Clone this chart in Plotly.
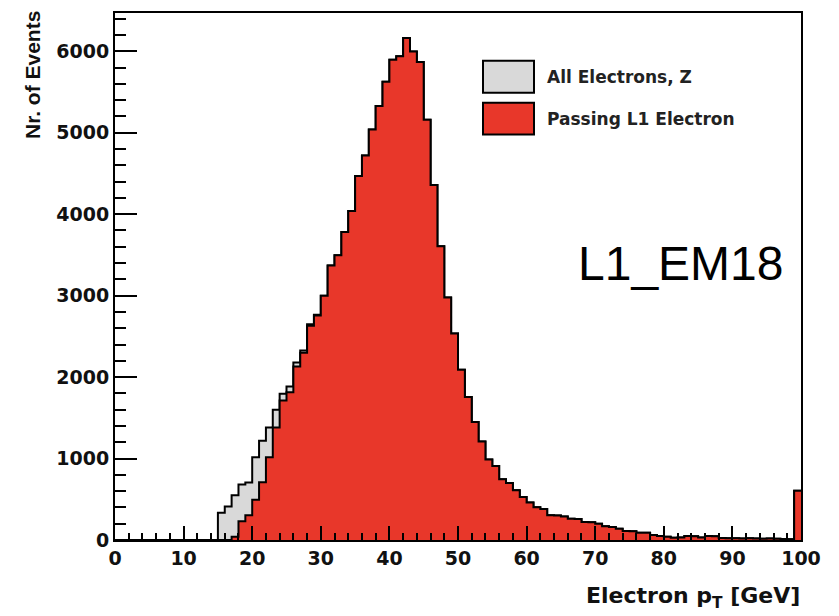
import plotly.graph_objects as go

# Bin edges: 100 bins of 1 GeV from 0 to 100
bin_edges = list(range(0, 101))

# Passing L1 Electron (red) counts per bin 0..99
passing_l1 = [
    0, 0, 0, 0, 0, 0, 0, 0, 0, 0,
    0, 0, 0, 0, 0, 0, 0, 40, 230, 305,
    495, 710, 1015, 1380, 1713, 1815, 2130, 2300, 2630, 2755,
    3000, 3370, 3495, 3780, 4040, 4470, 4720, 5040, 5327, 5625,
    5897, 5940, 6162, 5997, 5868, 5158, 4358, 3607, 2976, 2535,
    2090, 1757, 1450, 1208, 988, 910, 745, 699, 610, 527,
    460, 402, 380, 305, 300, 290, 262, 258, 222, 218,
    199, 170, 160, 138, 112, 108, 90, 88, 62, 50,
    41, 28, 30, 48, 46, 30, 48, 45, 25, 22,
    20, 18, 20, 17, 15, 18, 14, 12, 10, 605,
]

# All Electrons, Z (grey) counts per bin 0..99
all_electrons = [
    0, 0, 0, 0, 0, 0, 0, 0, 0, 0,
    0, 0, 0, 0, 0, 335, 410, 550, 680, 705,
    1015, 1220, 1380, 1600, 1795, 1885, 2180, 2325, 2650, 2765,
    3000, 3370, 3495, 3780, 4040, 4470, 4720, 5040, 5327, 5625,
    5897, 5940, 6162, 5997, 5868, 5158, 4358, 3607, 2976, 2535,
    2090, 1757, 1450, 1208, 988, 910, 745, 699, 610, 527,
    460, 402, 380, 305, 300, 290, 262, 258, 222, 218,
    199, 170, 160, 138, 112, 108, 90, 88, 62, 50,
    41, 28, 30, 48, 46, 30, 48, 45, 25, 22,
    20, 18, 20, 17, 15, 18, 14, 12, 10, 605,
]

series_names = ["All Electrons, Z", "Passing L1 Electron"]
x_ticks = [0, 10, 20, 30, 40, 50, 60, 70, 80, 90, 100]
y_ticks = [0, 1000, 2000, 3000, 4000, 5000, 6000]

GREY = "#d9d9d9"
RED = "#e8372a"
BOLD = "DejaVu Sans"

fig = go.Figure()

def step_trace(values, color, name):
    xs = bin_edges
    ys = values + [values[-1]]
    return go.Scatter(
        x=xs, y=ys, mode="lines", line_shape="hv",
        line=dict(color="black", width=2),
        fill="tozeroy", fillcolor=color, name=name, showlegend=False,
        hoverinfo="skip",
    )

fig.add_trace(step_trace(all_electrons, GREY, series_names[0]))
fig.add_trace(step_trace(passing_l1, RED, series_names[1]))

W, H = 839, 616
L, R, T, B = 115, 38, 11, 76
pw, ph = W - L - R, H - T - B

def px(xp):
    return (xp - L) / pw

def py(yp):
    return (H - B - yp) / ph

# legend boxes
for (y0, y1, col, label) in [(59, 91, GREY, series_names[0]), (101, 133, RED, series_names[1])]:
    fig.add_shape(type="rect", xref="paper", yref="paper",
                  x0=px(483), x1=px(534), y0=py(y1), y1=py(y0),
                  fillcolor=col, line=dict(color="black", width=2))
    fig.add_annotation(xref="paper", yref="paper", x=px(545), y=py((y0 + y1) / 2),
                       xanchor="left", yanchor="middle", showarrow=False,
                       text=label, font=dict(family=BOLD, size=17, weight="bold", color="#222"),
                       )

fig.add_annotation(xref="paper", yref="paper", x=px(576), y=py(262),
                   xanchor="left", yanchor="middle", showarrow=False,
                   text="L1_EM18", font=dict(family="Liberation Sans", size=48, color="black"))

fig.add_annotation(xref="paper", yref="paper", x=px(802), y=py(598),
                   xanchor="right", yanchor="middle", showarrow=False,
                   text="Electron p<sub>T</sub> [GeV]",
                   font=dict(family=BOLD, size=22, weight="bold", color="#111"))

fig.add_annotation(xref="paper", yref="paper", x=px(32), y=py(7),
                   xanchor="center", yanchor="top", showarrow=False, textangle=-90,
                   text="Nr. of Events",
                   font=dict(family="Liberation Sans", size=21, weight="bold", color="#111"))

fig.update_layout(
    width=W, height=H,
    margin=dict(l=L, r=R, t=T, b=B),
    paper_bgcolor="white", plot_bgcolor="white",
    showlegend=False,
)
fig.update_xaxes(
    range=[0, 100], tickvals=x_ticks, ticktext=[str(v) for v in x_ticks],
    ticks="inside", ticklen=14, tickwidth=2, tickcolor="black",
    minor=dict(dtick=2, ticks="inside", ticklen=7, tickwidth=2, tickcolor="black", showgrid=False),
    showline=True, linecolor="black", linewidth=2, mirror=True,
    showgrid=False, zeroline=False,
    tickfont=dict(family=BOLD, size=19, weight="bold", color="#111"),
)
fig.update_yaxes(
    range=[0, 6470], tickvals=y_ticks, ticktext=[str(v) for v in y_ticks],
    ticks="inside", ticklen=22, tickwidth=2, tickcolor="black",
    minor=dict(dtick=200, ticks="inside", ticklen=11, tickwidth=2, tickcolor="black", showgrid=False),
    showline=True, linecolor="black", linewidth=2, mirror=True,
    showgrid=False, zeroline=False,
    tickfont=dict(family=BOLD, size=19, weight="bold", color="#111"),
)

fig.write_html("out.html")
